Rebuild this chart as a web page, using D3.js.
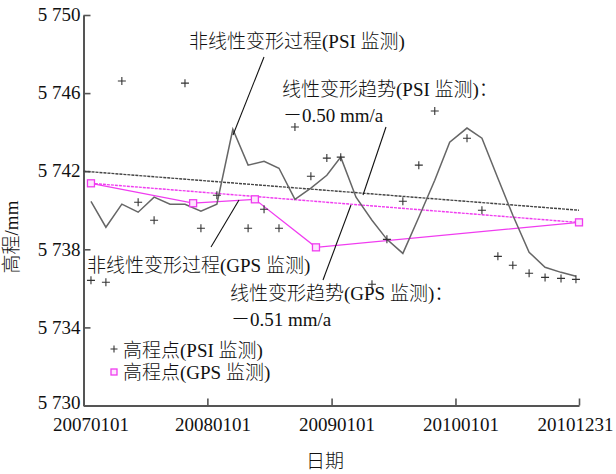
<!DOCTYPE html>
<html>
<head>
<meta charset="utf-8">
<script src="https://cdn.jsdelivr.net/npm/d3@7"></script>
<style>
  html, body { margin: 0; padding: 0; background: #fff; }
  svg { display: block; }
  text { font-family: "Liberation Serif", "Noto Sans CJK SC", serif; font-weight: 300; fill: #111; }
</style>
</head>
<body>
<svg id="chart" width="616" height="474"></svg>
<script>
// PSI elevation observations (date, height in mm)
const psiDates = ["2007-01-23","2007-03-08","2007-04-24","2007-06-11","2007-07-28","2007-10-27",
  "2007-12-13","2008-01-29","2008-04-30","2008-06-16","2008-07-30","2008-09-15","2008-11-01",
  "2008-12-18","2009-01-28","2009-04-30","2009-06-13","2009-07-30","2009-09-15","2009-11-01",
  "2010-02-04","2010-03-20","2010-05-06","2010-06-19","2010-08-06","2010-09-22","2010-11-08","2010-12-22"];
const psiHeights = [5736.41,5736.31,5746.62,5740.41,5739.49,5746.51,
  5739.08,5740.77,5739.08,5740.05,5739.08,5744.26,5741.74,
  5742.67,5742.72,5736.21,5738.51,5740.46,5742.31,5745.08,
  5743.69,5740.00,5737.64,5737.18,5736.77,5736.56,5736.51,5736.46];

// Nonlinear deformation process from PSI
const nonlinDates = ["2007-01-23","2007-03-08","2007-04-24","2007-06-11","2007-07-28","2007-09-13",
  "2007-10-27","2007-12-13","2008-01-29","2008-03-16","2008-04-30","2008-06-16","2008-07-30",
  "2008-09-15","2008-11-01","2008-12-18","2009-01-28","2009-03-14","2009-04-30","2009-06-13",
  "2009-07-30","2009-09-15","2009-11-01","2009-12-15","2010-02-04","2010-03-20","2010-05-06",
  "2010-06-19","2010-08-06","2010-09-22","2010-11-08","2010-12-22"];
const nonlinHeights = [5740.46,5739.13,5740.31,5739.90,5740.67,5740.31,
  5740.31,5739.95,5740.31,5744.15,5742.31,5742.51,5742.15,
  5740.56,5741.13,5741.79,5742.72,5740.67,5739.49,5738.51,
  5737.79,5739.64,5741.54,5743.49,5744.21,5743.69,5741.64,
  5739.74,5737.85,5737.08,5736.82,5736.62];

// GPS elevation observations
const gpsDates = ["2007-01-23","2007-11-20","2008-05-20","2008-11-16","2010-12-31"];
const gpsHeights = [5741.38,5740.36,5740.56,5738.10,5739.38];

// Linear trends (mm per year)
const psiTrendRate = -0.50;
const psiTrendStart = { date: "2007-01-01", height: 5742.0 };
const gpsTrendRate = -0.51;
const gpsTrendStart = { date: "2007-01-23", height: 5741.38 };
const trendEnd = "2010-12-31";

// Axis ticks
const xTickDates = ["2007-01-01","2008-01-01","2009-01-01","2010-01-01","2010-12-31"];
const xTickLabels = ["20070101","20080101","20090101","20100101","20101231"];
const yTicks = [5730, 5734, 5738, 5742, 5746, 5750];

const parse = d3.timeParse("%Y-%m-%d");
const svg = d3.select("#chart");

const x = d3.scaleTime()
  .domain([parse("2007-01-01"), parse("2010-12-31")])
  .range([83.5, 579]);
const y = d3.scaleLinear()
  .domain([5730, 5750])
  .range([405.5, 15]);

const fmtH = v => { const s = String(v); return s.slice(0, 1) + " " + s.slice(1); };
const yearMs = 365.25 * 24 * 3600 * 1000;
const trendLine = (start, rate) => {
  const d0 = parse(start.date), d1 = parse(trendEnd);
  return [[d0, start.height], [d1, start.height + rate * (d1 - d0) / yearMs]];
};

// Axes
const axisColor = "#555";
const gx = svg.append("g").attr("transform", "translate(0,405.5)")
  .call(d3.axisBottom(x)
    .tickValues(xTickDates.map(parse))
    .tickSize(-7)
    .tickSizeOuter(0)
    .tickFormat((d, i) => xTickLabels[i]));
gx.select(".domain").attr("stroke", axisColor).attr("stroke-width", 2);
gx.selectAll(".tick line").attr("stroke", axisColor).attr("stroke-width", 1.6);
gx.selectAll(".tick text")
  .attr("font-size", 19).attr("fill", "#111")
  .attr("y", 25.5).attr("dy", 0)
  .attr("dx", (d, i) => i === xTickLabels.length - 1 ? -4 : (i === 0 ? 7 : 5));

const gy = svg.append("g").attr("transform", "translate(83.5,0)")
  .call(d3.axisLeft(y)
    .tickValues(yTicks)
    .tickSize(-7)
    .tickSizeOuter(0)
    .tickFormat(fmtH));
gy.select(".domain").attr("stroke", axisColor).attr("stroke-width", 2);
gy.selectAll(".tick line").attr("stroke", axisColor).attr("stroke-width", 1.6);
gy.selectAll(".tick text")
  .attr("font-size", 19).attr("fill", "#111")
  .attr("x", -3)
  .attr("dy", d => d === 5730 ? "0.17em" : "0.3em");

// Axis titles
svg.append("text")
  .attr("transform", "translate(18,237) rotate(-90)")
  .attr("text-anchor", "middle")
  .attr("font-size", 19)
  .text("高程/mm");
svg.append("text")
  .attr("x", 325).attr("y", 468)
  .attr("text-anchor", "middle")
  .attr("font-size", 19)
  .text("日期");

const line = d3.line().x(d => x(d[0])).y(d => y(d[1]));
const magenta = "#f03cf0";

// PSI linear trend
svg.append("path")
  .datum(trendLine(psiTrendStart, psiTrendRate))
  .attr("d", line)
  .attr("fill", "none")
  .attr("stroke", "#444")
  .attr("stroke-width", 1.4)
  .attr("stroke-dasharray", "3,1");

// GPS linear trend
svg.append("path")
  .datum(trendLine(gpsTrendStart, gpsTrendRate))
  .attr("d", line)
  .attr("fill", "none")
  .attr("stroke", magenta)
  .attr("stroke-width", 1.4)
  .attr("stroke-dasharray", "3,1");

// GPS nonlinear process
svg.append("path")
  .datum(gpsDates.map((d, i) => [parse(d), gpsHeights[i]]))
  .attr("d", line)
  .attr("fill", "none")
  .attr("stroke", magenta)
  .attr("stroke-width", 1.3);

// PSI nonlinear process
svg.append("path")
  .datum(nonlinDates.map((d, i) => [parse(d), nonlinHeights[i]]))
  .attr("d", line)
  .attr("fill", "none")
  .attr("stroke", "#666")
  .attr("stroke-width", 1.5);

// PSI points as plus markers
const plusPath = (cx, cy, r) => `M${cx - r},${cy}H${cx + r}M${cx},${cy - r}V${cy + r}`;
svg.append("g").selectAll("path")
  .data(psiDates.map((d, i) => [parse(d), psiHeights[i]]))
  .join("path")
  .attr("d", d => plusPath(x(d[0]), y(d[1]), 4))
  .attr("stroke", "#333")
  .attr("stroke-width", 1.1);

// GPS points as hollow squares
svg.append("g").selectAll("rect")
  .data(gpsDates.map((d, i) => [parse(d), gpsHeights[i]]))
  .join("rect")
  .attr("x", d => x(d[0]) - 3.5)
  .attr("y", d => y(d[1]) - 3.5)
  .attr("width", 7).attr("height", 7)
  .attr("fill", "#fde6fd")
  .attr("stroke", magenta)
  .attr("stroke-width", 1.3);

// Annotations with leader lines
const annotations = [
  { lines: ["非线性变形过程(PSI 监测)"], x: 189, y: 48, from: [264, 57], to: [233, 135] },
  { lines: ["线性变形趋势(PSI 监测)：", "－0.50 mm/a"], x: 282, y: 96, from: [386, 127], to: [363, 195] },
  { lines: ["非线性变形过程(GPS 监测)"], x: 87, y: 272, from: [211, 247], to: [239, 200] },
  { lines: ["线性变形趋势(GPS 监测)：", "－0.51 mm/a"], x: 230, y: 300, from: [323, 280], to: [351, 205] }
];
annotations.forEach(a => {
  svg.append("line")
    .attr("x1", a.from[0]).attr("y1", a.from[1])
    .attr("x2", a.to[0]).attr("y2", a.to[1])
    .attr("stroke", "#111").attr("stroke-width", 1.1);
  a.lines.forEach((t, i) => {
    svg.append("text")
      .attr("x", a.x + (i ? 1 : 0)).attr("y", a.y + i * 26)
      .attr("font-size", 19)
      .text(t);
  });
});

// Legend
const legend = svg.append("g");
legend.append("path").attr("d", plusPath(114, 349, 3.5)).attr("stroke", "#333").attr("stroke-width", 1.1);
legend.append("text").attr("x", 123).attr("y", 357).attr("font-size", 19).text("高程点(PSI 监测)");
legend.append("rect").attr("x", 111).attr("y", 369).attr("width", 6).attr("height", 6)
  .attr("fill", "#fde6fd").attr("stroke", magenta).attr("stroke-width", 1.3);
legend.append("text").attr("x", 123).attr("y", 379).attr("font-size", 19).text("高程点(GPS 监测)");
</script>
</body>
</html>
